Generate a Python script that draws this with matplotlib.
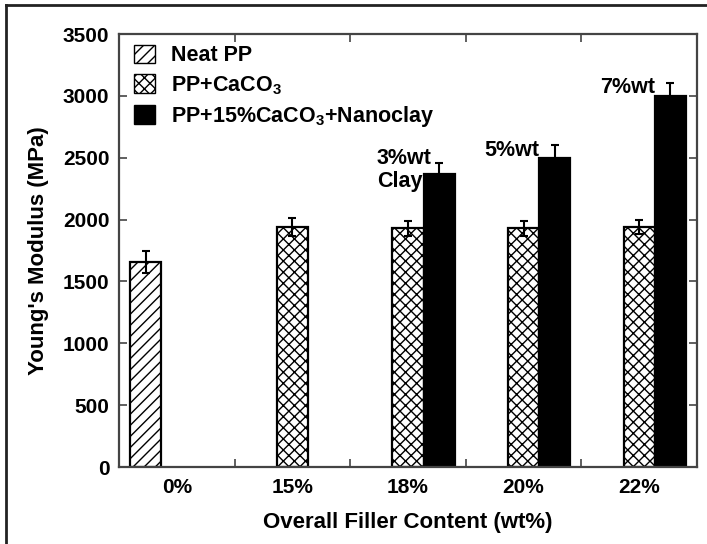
import numpy as np
import matplotlib
matplotlib.use('Agg')
import matplotlib.pyplot as plt
from matplotlib.patches import Patch
from matplotlib.lines import Line2D

plt.rcParams['font.family'] = ['Liberation Sans', 'DejaVu Sans']
plt.rcParams['font.weight'] = 'bold'
plt.rcParams['mathtext.fontset'] = 'custom'
plt.rcParams['mathtext.rm'] = 'Liberation Sans:bold'
plt.rcParams['mathtext.bf'] = 'Liberation Sans:bold'
plt.rcParams['hatch.linewidth'] = 1.0

# data
categories = ['0%', '15%', '18%', '20%', '22%']
neat_pp = [1660, None, None, None, None]
neat_pp_err = [90, None, None, None, None]
pp_caco3 = [None, 1940, 1930, 1930, 1940]
pp_caco3_err = [None, 70, 60, 60, 60]
nanoclay = [None, None, 2370, 2500, 3000]
nanoclay_err = [None, None, 90, 100, 100]
clay_labels = ['3%wt\nClay', '5%wt', '7%wt']
clay_label_y = [2400, 2560, 3070]
clay_label_dx = [0.07, 0.0, 0.0]

w = 0.27
x = np.arange(len(categories))

fig = plt.figure(figsize=(7.07, 5.44), dpi=100)
ax = fig.add_axes([0.1683, 0.1415, 0.8176, 0.796])

def draw(vals, errs, offset, **kw):
    idx = [i for i, v in enumerate(vals) if v is not None]
    xs = x[idx] + offset
    ys = [vals[i] for i in idx]
    es = [errs[i] for i in idx]
    ax.bar(xs, ys, w, edgecolor='black', linewidth=1.6, **kw)
    ax.errorbar(xs, ys, yerr=es, fmt='none', ecolor='black', elinewidth=1.5,
                capsize=3, capthick=1.5)
    return xs

draw(neat_pp, neat_pp_err, -w, color='white', hatch='///')
draw(pp_caco3, pp_caco3_err, 0, color='white', hatch='xxx')
xs_clay = draw(nanoclay, nanoclay_err, w, color='black')

for xc, lab, ly, dx in zip(xs_clay, clay_labels, clay_label_y, clay_label_dx):
    ax.text(xc - w / 2 + dx, ly, lab, ha='right', va='center',
            multialignment='left', fontsize=15.5, fontweight='bold',
            linespacing=1.15)

ax.set_xlim(-0.5, 4.5)
ax.set_ylim(0, 3500)
ax.set_yticks(np.arange(0, 3501, 500))
ax.set_xticks(x)
ax.set_xticklabels(categories)
ax.set_xticks(np.arange(0.5, 4.5, 1), minor=True)
ax.tick_params(axis='x', which='major', length=0, pad=8, labelsize=15)
ax.tick_params(axis='x', which='minor', direction='in', length=6, width=1.2,
               top=True, bottom=True, color='#444444')
ax.tick_params(axis='y', direction='in', length=6, width=1.2, right=True,
               labelsize=15, pad=7, color='#444444')
for lab in ax.get_xticklabels() + ax.get_yticklabels():
    lab.set_fontweight('bold')
for sp in ax.spines.values():
    sp.set_color('#444444')
    sp.set_linewidth(1.6)

ax.set_ylabel("Young's Modulus (MPa)", fontsize=16, fontweight='bold', labelpad=10)
ax.set_xlabel('Overall Filler Content (wt%)', fontsize=16, fontweight='bold', labelpad=11)

handles = [
    Patch(facecolor='white', edgecolor='black', hatch='///', linewidth=1.0),
    Patch(facecolor='white', edgecolor='black', hatch='xxx', linewidth=1.0),
    Patch(facecolor='black', edgecolor='black'),
]
labels = ['Neat PP', r'PP+CaCO$_{3}$', r'PP+15%CaCO$_{3}$+Nanoclay']
ax.legend(handles, labels, loc='upper left', bbox_to_anchor=(0.008, 1.0),
          frameon=False, prop={'weight': 'bold', 'size': 15.5},
          handlelength=0.95, handleheight=0.95, handletextpad=0.75,
          labelspacing=0.35, borderaxespad=0.1)

# outer frame of the picture (top and left edges)
fig.add_artist(Line2D([6 / 707, 1], [1 - 5 / 544, 1 - 5 / 544], color='#222222', lw=2))
fig.add_artist(Line2D([6 / 707, 6 / 707], [0, 1 - 5 / 544], color='#222222', lw=2))

fig.savefig('out.png', dpi=100)
